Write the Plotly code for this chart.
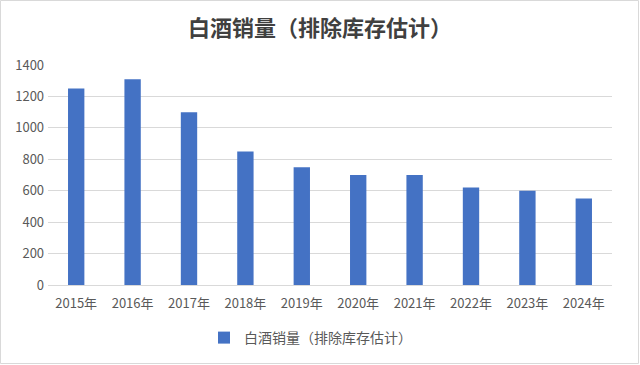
import plotly.graph_objects as go

years = ["2015年", "2016年", "2017年", "2018年", "2019年", "2020年", "2021年", "2022年", "2023年", "2024年"]
sales = [1250, 1310, 1100, 850, 750, 700, 700, 620, 600, 550]
series_name = "白酒销量（排除库存估计）"
title_text = "白酒销量（排除库存估计）"

W, H = 640, 365
ML, MR, MT, MB = 48, 28, 65, 80
PW, PH = W - ML - MR, H - MT - MB

fig = go.Figure()
fig.add_trace(go.Bar(x=years, y=sales, name=series_name, marker=dict(color="#4472C4", line=dict(width=0))))

fig.update_layout(
    width=W, height=H,
    paper_bgcolor="white", plot_bgcolor="white",
    margin=dict(l=ML, r=MR, t=MT, b=MB, autoexpand=False),
    title=dict(text="<b>" + title_text + "</b>", x=0.5, xanchor="center", y=1 - 28 / H, yanchor="middle",
               font=dict(family="Noto Sans CJK SC", size=22, color="#404040")),
    font=dict(family="Noto Sans CJK SC", color="#595959"),
    bargap=0.71,
    showlegend=True,
    legend=dict(orientation="h", x=(204 - ML) / PW, xanchor="left", y=-(338 - (MT + PH)) / PH, yanchor="middle",
                itemwidth=30, font=dict(size=14, color="#595959")),
    xaxis=dict(showgrid=False, showline=True, linecolor="#D9D9D9", linewidth=1, ticks="",
               ticklabelstandoff=6, tickfont=dict(size=13, color="#595959")),
    yaxis=dict(range=[0, 1400], dtick=200, showgrid=True, gridcolor="#D9D9D9", gridwidth=1,
               zeroline=False, ticks="", tickfont=dict(size=13, color="#595959"), ticksuffix=" "),
    shapes=[dict(type="rect", xref="paper", yref="paper",
                 x0=-(ML - 0.5) / PW, x1=1 + (MR - 1.5) / PW,
                 y0=-(MB - 1.5) / PH, y1=1 + (MT - 0.5) / PH,
                 line=dict(color="#D9D9D9", width=1))],
)

fig.write_html("out.html", config={"displayModeBar": False},
               post_script="document.body.style.margin='0';document.body.style.overflow='hidden';")
